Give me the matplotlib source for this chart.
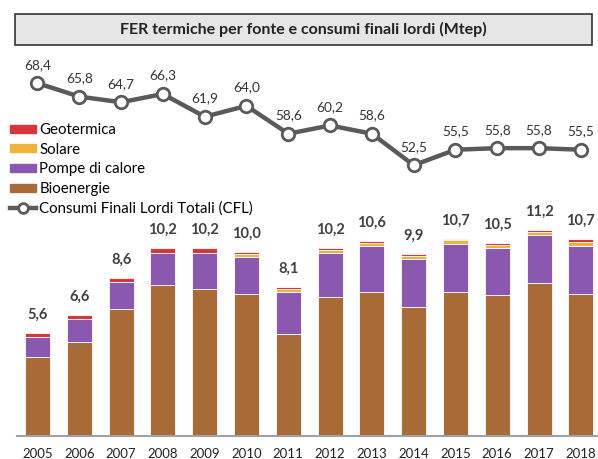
import matplotlib.pyplot as plt
from matplotlib.patches import Rectangle, Patch
from matplotlib.lines import Line2D

years = ['2005', '2006', '2007', '2008', '2009', '2010', '2011',
         '2012', '2013', '2014', '2015', '2016', '2017', '2018']
bioenergie = [4.3, 5.1, 6.9, 8.2, 8.0, 7.7, 5.55, 7.55, 7.8, 7.0, 7.8, 7.65, 8.3, 7.7]
pompe = [1.1, 1.25, 1.45, 1.75, 1.95, 2.05, 2.3, 2.4, 2.5, 2.6, 2.65, 2.55, 2.6, 2.6]
solare = [0.0, 0.0, 0.0, 0.0, 0.0, 0.15, 0.15, 0.15, 0.2, 0.2, 0.2, 0.2, 0.2, 0.25]
geotermica = [0.2, 0.25, 0.25, 0.25, 0.25, 0.1, 0.1, 0.1, 0.1, 0.1, 0.05, 0.1, 0.1, 0.15]
totali = ['5,6', '6,6', '8,6', '10,2', '10,2', '10,0', '8,1',
          '10,2', '10,6', '9,9', '10,7', '10,5', '11,2', '10,7']
cfl = [68.4, 65.8, 64.7, 66.3, 61.9, 64.0, 58.6, 60.2, 58.6, 52.5, 55.5, 55.8, 55.8, 55.5]

c_bio = '#A86B38'
c_hp = '#8B58B0'
c_sol = '#EDB33B'
c_geo = '#D8363A'
c_line = '#5A5A5A'

plt.rcParams['font.family'] = ['Lato', 'DejaVu Sans']

fig = plt.figure(figsize=(5.98, 4.59), dpi=100)
W, H = 598, 459

# title box
fig.patches.append(Rectangle((15 / W, 1 - 45 / H), 577 / W, 31 / H, transform=fig.transFigure,
                             facecolor='#E6E6E6', edgecolor='#333333', linewidth=1.2))
fig.text(303 / W, 1 - 29 / H, 'FER termiche per fonte e consumi finali lordi (Mtep)',
         ha='center', va='center', fontsize=11.5, fontweight='bold', color='#222222')

ax = fig.add_axes([17 / W, 23 / H, 581 / W, 391 / H])
x = list(range(len(years)))
w = 0.6
bot2 = [b + p for b, p in zip(bioenergie, pompe)]
bot3 = [b + s for b, s in zip(bot2, solare)]
top = [b + g for b, g in zip(bot3, geotermica)]
kw = dict(width=w, edgecolor='white', linewidth=0.6)
ax.bar(x, bioenergie, color=c_bio, **kw)
ax.bar(x, pompe, bottom=bioenergie, color=c_hp, **kw)
ax.bar(x, solare, bottom=bot2, color=c_sol, **kw)
ax.bar(x, geotermica, bottom=bot3, color=c_geo, **kw)
for xi, t, lab in zip(x, top, totali):
    ax.annotate(lab, (xi, t), xytext=(0, 8), textcoords='offset points',
                ha='center', va='bottom', fontsize=10.5, fontweight='bold', color='#404040')

ax.set_xlim(-0.49, 13.41)
ax.set_ylim(0, 21.25)
ax.set_xticks(x)
ax.set_xticklabels(years, fontsize=9.5, color='#222222')
ax.tick_params(axis='x', length=0, pad=9)
ax.set_yticks([])
for s in ['top', 'right', 'left']:
    ax.spines[s].set_visible(False)
ax.spines['bottom'].set_color('#A0A0A0')
ax.spines['bottom'].set_linewidth(1.5)

ax2 = ax.twinx()
ax2.plot(x, cfl, color=c_line, linewidth=3.2, marker='o', markersize=9,
         markerfacecolor='white', markeredgecolor=c_line, markeredgewidth=2, zorder=3)
for xi, v in zip(x, cfl):
    ax2.annotate(f'{v:.1f}'.replace('.', ','), (xi, v), xytext=(0, 9), textcoords='offset points',
                 ha='center', va='bottom', fontsize=9.8, color='#333333')
ax2.set_ylim(0, 75.8)
ax2.set_yticks([])
for s in ax2.spines.values():
    s.set_visible(False)

handles = [Patch(color=c_geo), Patch(color=c_sol), Patch(color=c_hp), Patch(color=c_bio),
           Line2D([], [], color=c_line, linewidth=3.2, marker='o', markersize=7,
                  markerfacecolor='white', markeredgecolor=c_line, markeredgewidth=2)]
labels = ['Geotermica', 'Solare', 'Pompe di calore', 'Bioenergie',
          'Consumi Finali Lordi Totali (CFL)']
fig.legend(handles, labels, loc='upper left', bbox_to_anchor=(4 / W, 1 - 117 / H),
           frameon=False, fontsize=10.8, handlelength=1.75, handleheight=0.45,
           handletextpad=0.2, labelspacing=0.38, borderaxespad=0)

fig.savefig('out.png', dpi=100)
